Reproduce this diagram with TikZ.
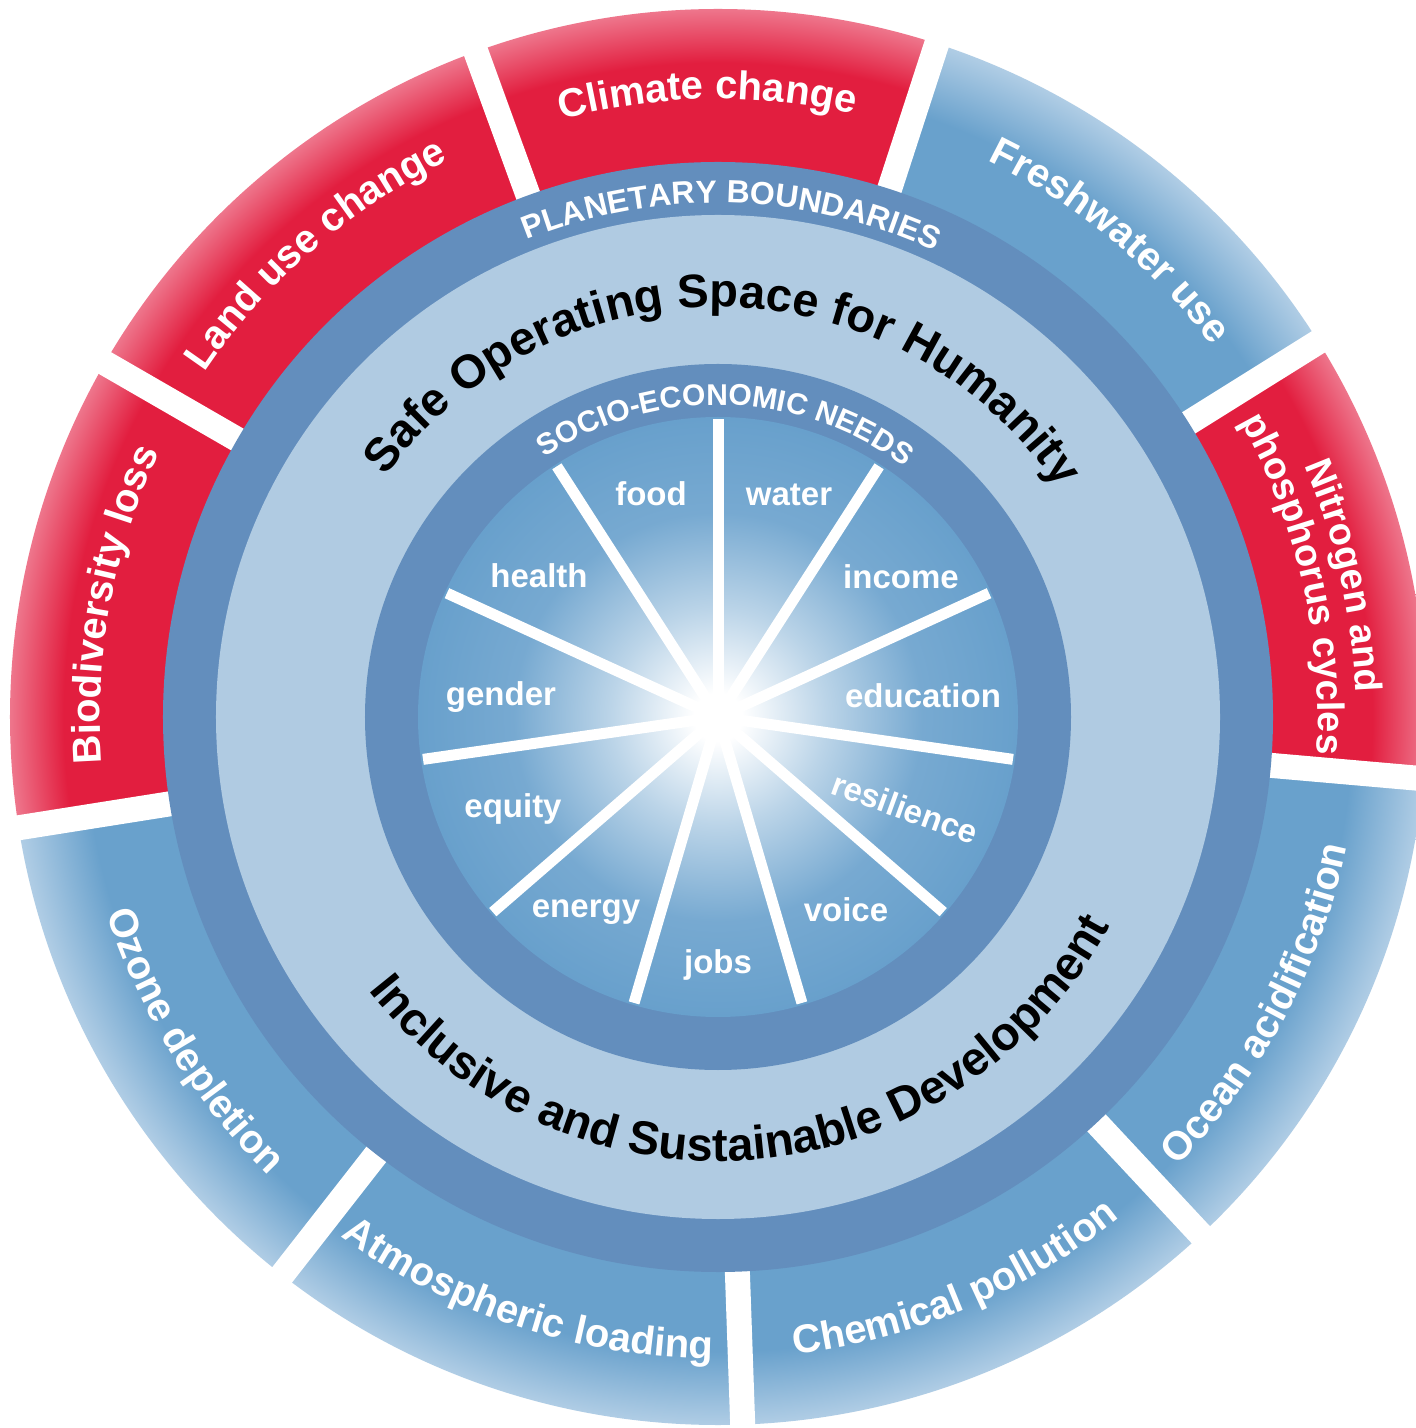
\documentclass[tikz,border=0pt]{standalone}
\usepackage{fontspec}
\setmainfont{Liberation Sans}
\usepackage{tikz}
\usetikzlibrary{decorations.text}
\definecolor{boundaryred}{RGB}{226,30,63}
\definecolor{boundaryredlight}{RGB}{238,118,140}
\definecolor{boundaryblue}{RGB}{105,161,204}
\definecolor{boundarybluelight}{RGB}{176,205,229}
\definecolor{ringblue}{RGB}{99,142,189}
\definecolor{spaceblue}{RGB}{176,203,226}
\definecolor{needsblue}{RGB}{104,160,204}
\newcommand{\needsradius}{150pt}
\newcommand{\needsringradius}{176.5pt}
\newcommand{\spaceradius}{251pt}
\newcommand{\boundaryradius}{277.5pt}
\newcommand{\outerradius}{354pt}
\newcommand{\segmentfont}{\fontsize{20pt}{24pt}\selectfont\bfseries}
\newcommand{\cyclesfont}{\fontsize{19pt}{23pt}\selectfont\bfseries}
\newcommand{\ringfont}{\fontsize{16pt}{19pt}\selectfont\bfseries}
\newcommand{\needsringfont}{\fontsize{15pt}{18pt}\selectfont\bfseries}
\newcommand{\spacefont}{\fontsize{23.5pt}{28pt}\selectfont\bfseries}
\newcommand{\needsfont}{\fontsize{16.5pt}{19pt}\selectfont\bfseries}
\pgfdeclareradialshading{redrim}{\pgfpoint{0bp}{0bp}}{color(0bp)=(boundaryred); color(23.1bp)=(boundaryred); color(25bp)=(boundaryredlight); color(50bp)=(boundaryredlight)}
\pgfdeclareradialshading{bluerim}{\pgfpoint{0bp}{0bp}}{color(0bp)=(boundaryblue); color(22.4bp)=(boundaryblue); color(25bp)=(boundarybluelight); color(50bp)=(boundarybluelight)}
\pgfdeclareradialshading{needsglow}{\pgfpoint{0bp}{0bp}}{color(0bp)=(white); color(2bp)=(white); color(9bp)=(needsblue!45!white); color(17bp)=(needsblue!90!white); color(25bp)=(needsblue); color(50bp)=(needsblue)}
% one boundary between two angles
\newcommand{\boundarysegment}[3]{%
  \begin{scope}
    \clip (#1:260pt) arc[start angle=#1, end angle=#2, radius=260pt]
      -- (#2:\outerradius) arc[start angle=#2, end angle=#1, radius=\outerradius] -- cycle;
    \shade[shading=#3] (0,0) circle[radius=\outerradius];
  \end{scope}}
\tikzstyle{gap}=[draw=white, line width=12.5pt]
\tikzstyle{spoke}=[draw=white, line width=5.5pt]
\tikzstyle{arclabel}=[decorate, decoration={text along path, text align=center, text color=white}]
\tikzstyle{darkarclabel}=[decorate, decoration={text along path, text align=center, text color=black}]
\tikzstyle{needlabel}=[text=white, font=\needsfont, inner sep=0]

\begin{document}
\begin{tikzpicture}
        \useasboundingbox (-359pt,-355.5pt) rectangle (349pt,358.5pt);
        \fill[white] (-359pt,-355.5pt) rectangle (349pt,358.5pt);
        \coordinate (hub) at (0,0);
        % outer ring of boundaries
        \boundarysegment{72}{110}{redrim}
        \boundarysegment{32}{72}{bluerim}
        \boundarysegment{-5}{32}{redrim}
        \boundarysegment{-47}{-5}{bluerim}
        \boundarysegment{-88}{-47}{bluerim}
        \boundarysegment{-128}{-88}{bluerim}
        \boundarysegment{189}{232}{bluerim}
        \boundarysegment{150}{189}{redrim}
        \boundarysegment{110}{150}{redrim}
        \draw[gap] (110:262pt) -- (110:372pt);
        \draw[gap] (72:262pt) -- (72:372pt);
        \draw[gap] (32:262pt) -- (32:372pt);
        \draw[gap] (-5:262pt) -- (-5:372pt);
        \draw[gap] (-47:262pt) -- (-47:372pt);
        \draw[gap] (-88:262pt) -- (-88:372pt);
        \draw[gap] (-128:262pt) -- (-128:372pt);
        \draw[gap] (189:262pt) -- (189:372pt);
        \draw[gap] (150:262pt) -- (150:372pt);
        % rings
        \fill[ringblue] (hub) circle[radius=\boundaryradius];
        \fill[spaceblue] (hub) circle[radius=\spaceradius];
        \fill[ringblue] (hub) circle[radius=\needsringradius];
        \shade[shading=needsglow] (hub) circle[radius=\needsradius];
        \draw[spoke] (hub) -- (90:149pt);
        \draw[spoke] (hub) -- (57.27:149pt);
        \draw[spoke] (hub) -- (24.55:149pt);
        \draw[spoke] (hub) -- (-8.18:149pt);
        \draw[spoke] (hub) -- (-40.91:149pt);
        \draw[spoke] (hub) -- (-73.64:149pt);
        \draw[spoke] (hub) -- (-106.36:149pt);
        \draw[spoke] (hub) -- (-139.09:149pt);
        \draw[spoke] (hub) -- (-171.82:149pt);
        \draw[spoke] (hub) -- (155.45:149pt);
        \draw[spoke] (hub) -- (122.73:149pt);
        % boundary labels
        \path[arclabel, decoration={text={|\segmentfont|Climate change}}] (131:309pt) arc[start angle=131, end angle=51, radius=309pt];
        \path[arclabel, decoration={text={|\segmentfont|Freshwater use}}] (90.5:309pt) arc[start angle=90.5, end angle=10.5, radius=309pt];
        \path[arclabel, decoration={text={|\segmentfont|Land use change}}] (171:309pt) arc[start angle=171, end angle=91, radius=309pt];
        \path[arclabel, decoration={text={|\segmentfont|Biodiversity loss}}] (209.5:309pt) arc[start angle=209.5, end angle=129.5, radius=309pt];
        \path[arclabel, decoration={text={|\cyclesfont|Nitrogen and}}] (52.7:319pt) arc[start angle=52.7, end angle=-27.3, radius=319pt];
        \path[arclabel, decoration={text={|\cyclesfont|phosphorus cycles}}] (53:300pt) arc[start angle=53, end angle=-27, radius=300pt];
        \path[arclabel, decoration={text={|\segmentfont|Ocean acidification}}] (-68:321pt) arc[start angle=-68, end angle=12, radius=321pt];
        \path[arclabel, decoration={text={|\segmentfont|Chemical pollution}}] (-107.2:321pt) arc[start angle=-107.2, end angle=-27.2, radius=321pt];
        \path[arclabel, decoration={text={|\segmentfont|Atmospheric loading}}] (-148.2:321pt) arc[start angle=-148.2, end angle=-68.2, radius=321pt];
        \path[arclabel, decoration={text={|\segmentfont|Ozone depletion}}] (171.7:321pt) arc[start angle=171.7, end angle=251.7, radius=321pt];
        % ring titles
        \path[arclabel, decoration={text={|\ringfont|PLANETARY BOUNDARIES}}] (128.5:257pt) arc[start angle=128.5, end angle=48.5, radius=257pt];
        \path[arclabel, decoration={text={|\needsringfont|SOCIO-ECONOMIC NEEDS}}] (148.5:156pt) arc[start angle=148.5, end angle=28.5, radius=156pt];
        \path[darkarclabel, decoration={text={|\spacefont|Safe Operating Space for Humanity}}] (169:205pt) arc[start angle=169, end angle=9, radius=205pt];
        \path[darkarclabel, decoration={text={|\spacefont|Inclusive and Sustainable Development}}] (195:222pt) arc[start angle=195, end angle=355, radius=222pt];
        % needs
        \node[needlabel] (food) at (-33.5pt,111.5pt) {food};
        \node[needlabel] (water) at (35.5pt,111pt) {water};
        \node[needlabel] (income) at (91.5pt,70pt) {income};
        \node[needlabel] (education) at (102.5pt,10.5pt) {education};
        \node[needlabel, rotate=-20] (resilience) at (93.5pt,-45.5pt) {resilience};
        \node[needlabel] (voice) at (64pt,-96.5pt) {voice};
        \node[needlabel] (jobs) at (0pt,-124pt) {jobs};
        \node[needlabel] (energy) at (-66pt,-97.5pt) {energy};
        \node[needlabel] (equity) at (-102.5pt,-46pt) {equity};
        \node[needlabel] (gender) at (-108.5pt,10pt) {gender};
        \node[needlabel] (health) at (-89.5pt,70.5pt) {health};
    \end{tikzpicture}
\end{document}
